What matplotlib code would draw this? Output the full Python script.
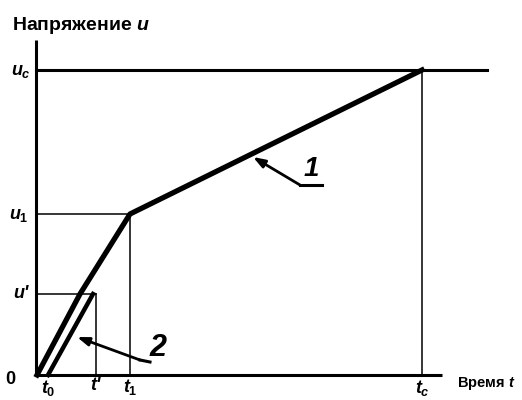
import matplotlib
matplotlib.use('Agg')
import matplotlib.pyplot as plt

plt.rcParams['font.family'] = ['Liberation Sans', 'DejaVu Sans']
plt.rcParams['mathtext.fontset'] = 'custom'
plt.rcParams['mathtext.it'] = 'Liberation Sans:bold:italic'
plt.rcParams['mathtext.rm'] = 'Liberation Sans:bold'

# характерные точки (условные единицы)
t_marks = {'t0': 12, 'tp': 60, 't1': 94, 'tc': 386}
u_marks = {'up': 81, 'u1': 161, 'uc': 305}

# кривая 1 и прямая 2
curve1_t = [1, 44, 94, 386]
curve1_u = [0, 81, 161, 305]
line2_t = [12, 57]
line2_u = [0, 81]

t_max, u_max, uc_end = 406, 335, 451

fig = plt.figure(figsize=(5.22, 4.00), dpi=100)
ax = fig.add_axes([0, 0, 1, 1])
ax.set_xlim(-36, 486)
ax.set_ylim(-25, 375)
ax.axis('off')

# оси
ax.plot([0, 0], [0, u_max], color='black', lw=2.2, solid_capstyle='butt')
ax.plot([0, t_max], [0, 0], color='black', lw=2.2, solid_capstyle='butt')

# вспомогательные линии
uc, u1, up = u_marks['uc'], u_marks['u1'], u_marks['up']
t1, tp, tc = t_marks['t1'], t_marks['tp'], t_marks['tc']
ax.plot([0, uc_end], [uc, uc], color='black', lw=2.2)
ax.plot([0, t1], [u1, u1], color='black', lw=1.1)
ax.plot([t1, t1], [0, u1], color='black', lw=1.1)
ax.plot([0, tp], [up, up], color='black', lw=1.1)
ax.plot([tp, tp], [0, up], color='black', lw=1.1)
ax.plot([tc, tc], [0, uc], color='black', lw=1.1)

# кривые
ax.plot(curve1_t, curve1_u, color='black', lw=3.8, solid_joinstyle='round')
ax.plot(line2_t, line2_u, color='black', lw=3.2)

# выноски
arrow = dict(arrowstyle='-|>,head_length=0.7,head_width=0.25', color='black', lw=2,
             shrinkA=0, shrinkB=0)
ax.plot([264, 286], [190, 190], color='black', lw=2.2)
ax.annotate('', xy=(217, 218), xytext=(264, 190), arrowprops=arrow)
ax.plot([104, 114], [15, 13], color='black', lw=2.2)
ax.annotate('', xy=(41, 38), xytext=(104, 15), arrowprops=arrow)
ax.text(275, 206, '1', fontsize=20, fontweight='bold', fontstyle='italic', ha='center', va='center')
ax.text(122, 27, '2', fontsize=22, fontweight='bold', fontstyle='italic', ha='center', va='center')

# подписи
ax.text(-24, 350, 'Напряжение $u$', fontsize=14, fontweight='bold', va='center', ha='left')
ax.text(421, -8, 'Время $t$', fontsize=10.5, fontweight='bold', va='center', ha='left')
ax.text(-15, 303, '$u_c$', fontsize=13, ha='center', va='center')
ax.text(-17, 160, '$u_1$', fontsize=13, ha='center', va='center')
ax.text(-15, 81, "u'", fontsize=13, fontweight='bold', fontstyle='italic', ha='center', va='center')
ax.text(-26, -5, '0', fontsize=13, fontweight='bold', ha='center', va='center')
ax.text(12, -13, '$t_0$', fontsize=13, ha='center', va='center')
ax.text(59, -10, "t'", fontsize=13, fontweight='bold', fontstyle='italic', ha='center', va='center')
ax.text(94, -12, '$t_1$', fontsize=13, ha='center', va='center')
ax.text(386, -13, '$t_c$', fontsize=13, ha='center', va='center')

fig.savefig('out.png', dpi=100, facecolor='white')
